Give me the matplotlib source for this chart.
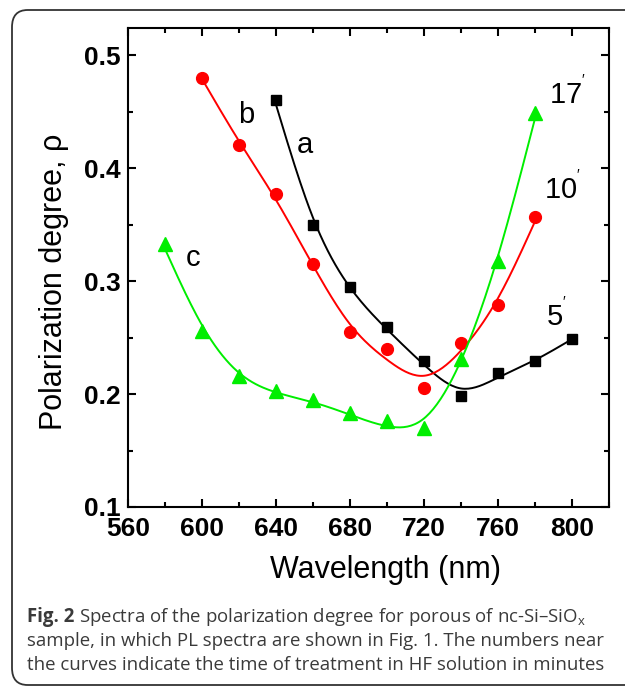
import numpy as np
import matplotlib
matplotlib.use("Agg")
import matplotlib.pyplot as plt
from matplotlib.patches import FancyBboxPatch
from matplotlib.ticker import MultipleLocator

plt.rcParams['font.family'] = ['Liberation Sans', 'DejaVu Sans']
plt.rcParams['mathtext.fontset'] = 'custom'
plt.rcParams['mathtext.rm'] = 'Liberation Sans'

# polarization degree vs wavelength, three treatment times
wl_a = [640, 660, 680, 700, 720, 740, 760, 780, 800]
rho_a = [0.460, 0.350, 0.295, 0.259, 0.229, 0.198, 0.219, 0.229, 0.249]

wl_b = [600, 620, 640, 660, 680, 700, 720, 740, 760, 780]
rho_b = [0.480, 0.420, 0.377, 0.315, 0.255, 0.240, 0.205, 0.245, 0.279, 0.357]

wl_c = [580, 600, 620, 640, 660, 680, 700, 720, 740, 760, 780]
rho_c = [0.333, 0.256, 0.216, 0.203, 0.195, 0.183, 0.176, 0.170, 0.231, 0.318, 0.449]

x_ticks = [560, 600, 640, 680, 720, 760, 800]
y_ticks = [0.1, 0.2, 0.3, 0.4, 0.5]


def smooth(x, y, lam):
    # penalised (second difference) smoothing on a 1 nm grid
    x = np.asarray(x, float)
    y = np.asarray(y, float)
    grid = np.arange(x[0], x[-1] + 1, 1.0)
    n = len(grid)
    w = np.zeros(n)
    yy = np.zeros(n)
    idx = np.searchsorted(grid, x)
    w[idx] = 1.0
    yy[idx] = y
    D = np.diff(np.eye(n), 2, axis=0)
    z = np.linalg.solve(np.diag(w) + lam * D.T @ D, w * yy)
    return grid, z


fig = plt.figure(figsize=(6.25, 6.87), dpi=100)

# rounded frame around the figure + caption
frame = FancyBboxPatch((12 / 625, 2 / 687), 640 / 625, 675 / 687,
                       boxstyle="round,pad=0,rounding_size=0.025",
                       transform=fig.transFigure, fill=False,
                       edgecolor='#333333', linewidth=1.3, clip_on=False)
fig.patches.append(frame)

ax = fig.add_axes([128 / 625, 1 - 507 / 687, (609 - 128) / 625, (507 - 28) / 687])

series = [
    (wl_a, rho_a, 'black', 's', 7.0, 600),
    (wl_b, rho_b, '#ff0000', 'o', 8.5, 1200),
    (wl_c, rho_c, '#00ee00', '^', 9.5, 1200),
]
for wl, rho, col, mk, ms, lam in series:
    gx, gy = smooth(wl, rho, lam)
    ax.plot(gx, gy, color=col, lw=1.4)
    ax.plot(wl, rho, ls='none', marker=mk, ms=ms, color=col, mec=col)

ax.set_xlim(560, 820)
ax.set_ylim(0.1, 0.524)
ax.set_xticks(x_ticks)
ax.set_yticks(y_ticks)
ax.set_yticklabels(['0.1', '0.2', '0.3', '0.4', '0.5'])
ax.xaxis.set_minor_locator(MultipleLocator(20))
ax.yaxis.set_minor_locator(MultipleLocator(0.05))
ax.tick_params(which='both', direction='in', top=True, right=True, width=1.5)
ax.tick_params(which='major', length=6, labelsize=19)
ax.tick_params(which='minor', length=3.5)
ax.tick_params(axis='x', which='major', pad=7)
ax.tick_params(axis='y', which='major', pad=5)
for lab in ax.get_xticklabels() + ax.get_yticklabels():
    lab.set_fontweight('bold')
for s in ax.spines.values():
    s.set_linewidth(1.5)

# curve labels
ax.text(655.7, 0.420, 'a', fontsize=21, ha='center', va='center')
ax.text(623.8, 0.447, 'b', fontsize=21, ha='center', va='center')
ax.text(595.0, 0.320, 'c', fontsize=21, ha='center', va='center')
ax.text(797.5, 0.466, "17$^{'}$", fontsize=21, ha='center', va='center')
ax.text(795.0, 0.382, "10$^{'}$", fontsize=21, ha='center', va='center')
ax.text(791.5, 0.270, "5$^{'}$", fontsize=21, ha='center', va='center')

fig.text(385 / 625, 1 - 570 / 687, 'Wavelength (nm)', fontsize=22,
         ha='center', va='center')
fig.text(54 / 625, 1 - 282 / 687, 'Polarization degree, \u03c1', fontsize=22,
         ha='center', va='center', rotation=90)

# caption
cap_font = ['Open Sans', 'DejaVu Sans']
fs = 13.4
cap_col = '#3a3a3a'
t0 = fig.text(27 / 625, 1 - 622 / 687, 'Fig. 2', fontsize=fs, fontweight='bold',
              family=cap_font, color=cap_col, va='baseline')
fig.canvas.draw()
bb = t0.get_window_extent()
fig.text(bb.x1 / 625 + 0.007, 1 - 622 / 687,
         'Spectra of the polarization degree for porous of nc-Si\u2013SiO$_\\mathregular{x}$',
         fontsize=fs, family=cap_font, color=cap_col, va='baseline')
fig.text(27 / 625, 1 - 646 / 687,
         'sample, in which PL spectra are shown in Fig. 1. The numbers near',
         fontsize=fs, family=cap_font, color=cap_col, va='baseline')
fig.text(27 / 625, 1 - 670 / 687,
         'the curves indicate the time of treatment in HF solution in minutes',
         fontsize=fs, family=cap_font, color=cap_col, va='baseline')

fig.savefig('out.png', dpi=100)
